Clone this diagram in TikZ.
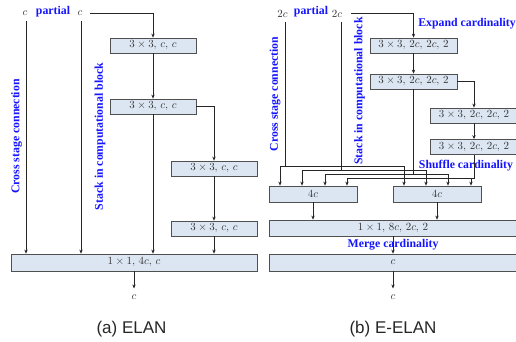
\documentclass[tikz,border=0pt]{standalone}
\usepackage{fontspec}
\setmainfont{Liberation Serif}
\newfontfamily\capfont{Liberation Sans}
\usetikzlibrary{arrows.meta}
\definecolor{boxfill}{HTML}{DCE6F2}
\definecolor{boxline}{HTML}{505050}
\definecolor{wire}{HTML}{262626}
\definecolor{notecol}{HTML}{1414FF}
\begin{document}
\begin{tikzpicture}[x=1pt,y=-1pt,
  blk/.style={draw=boxline, fill=boxfill, line width=0.8pt, minimum height=15pt,
    inner sep=0pt, text=black!80, font=\fontsize{11}{11}\selectfont},
  note/.style={text=notecol, inner sep=0pt, font=\fontsize{11.8}{12}\selectfont\bfseries},
  lbl/.style={inner sep=1pt, text=black!80, font=\fontsize{11}{11}\selectfont},
  ln/.style={draw=wire, line width=0.6pt},
  arr/.style={ln, -{Stealth[length=4pt,width=3.4pt]}},
  captxt/.style={anchor=base, text=black!85, font=\capfont\fontsize{17}{17}\selectfont}]
\clip (0,0) rectangle (516,341);
\useasboundingbox (0,0) rectangle (516,341);

% ---------------- (a) ELAN ----------------
\node[lbl] (lc1) at (25,13.5) {$c$};
\node[note] (lpart) at (53,12) {partial};
\node[lbl] (lc2) at (80,13.5) {$c$};

\node[blk, minimum width=86pt] (la1) at (153,45.5) {$3\times 3,\,c,\,c$};
\node[blk, minimum width=86pt] (la2) at (153,106.5) {$3\times 3,\,c,\,c$};
\node[blk, minimum width=86pt] (la3) at (214,168.5) {$3\times 3,\,c,\,c$};
\node[blk, minimum width=86pt] (la4) at (214,228.5) {$3\times 3,\,c,\,c$};
\node[blk, minimum width=246pt, minimum height=17pt] (lcat) at (134,262.5) {$1\times 1,\,4c,\,c$};
\node[lbl] (lout) at (134,297) {$c$};

\node[note, rotate=90] (lcross) at (16.5,136.5) {Cross stage connection};
\node[note, rotate=90] (lstack) at (100,136.5) {Stack in computational block};

\draw[arr, shorten <=4pt] ([xshift=1pt]lc1.south) -- ([xshift=1pt]lc1.south |- lcat.north);
\draw[arr, shorten <=4pt] ([xshift=1pt]lc2.south) -- ([xshift=1pt]lc2.south |- lcat.north);
\draw[arr] ([xshift=6pt]lc2.east) -| (la1.north);
\draw[arr] (la1) -- (la2);
\draw[arr] (la2.east) -| (la3.north);
\draw[arr] (la2.south) -- (la2.south |- lcat.north);
\draw[arr] (la3) -- (la4);
\draw[arr] (la4.south) -- (la4.south |- lcat.north);
\draw[arr, shorten >=5pt] (lcat.south) -- (lout.north);

\node[captxt] (capa) at (131.5,333) {(a) ELAN};

% ---------------- (b) E-ELAN ----------------
\node[lbl] (rc1) at (282.5,13.5) {$2c$};
\node[note] (rpart) at (311,12) {partial};
\node[lbl] (rc2) at (337,13.5) {$2c$};
\node[note] (rexp) at (467,24) {Expand cardinality};

\node[blk, minimum width=87pt] (rb1) at (413.5,45.5) {$3\times 3,\,2c,\,2c,\,2$};
\node[blk, minimum width=87pt] (rb2) at (413.5,81.5) {$3\times 3,\,2c,\,2c,\,2$};
\node[blk, minimum width=88pt] (rb3) at (474,115.5) {$3\times 3,\,2c,\,2c,\,2$};
\node[blk, minimum width=88pt] (rb4) at (474,147) {$3\times 3,\,2c,\,2c,\,2$};
\node[note] (rshuf) at (466,166) {Shuffle cardinality};

\node[blk, minimum width=88pt, minimum height=16pt] (rg1) at (313,194) {$4c$};
\node[blk, minimum width=88pt, minimum height=16pt] (rg2) at (437,194) {$4c$};
\node[blk, minimum width=248pt, minimum height=16pt] (rm) at (393,228) {$1\times 1,\,8c,\,2c,\,2$};
\node[note] (rmerge) at (393,245) {Merge cardinality};
\node[blk, minimum width=248pt, minimum height=17pt] (rcat) at (393,262.5) {$c$};
\node[lbl] (rout) at (393,297) {$c$};

\node[note, rotate=90] (rcross) at (275,94) {Cross stage connection};
\node[note, rotate=90] (rstack) at (359.5,91) {Stack in computational block};

% main computational stack
\draw[arr] ([xshift=8pt]rc2.east) -| (rb1.north);
\draw[arr] (rb1) -- (rb2);
\draw[arr] (rb2.east) -| (rb3.north);
\draw[arr] (rb3) -- (rb4);

% shuffle wiring: four buses feeding both 4c groups
\coordinate (h1l) at (280,166);   \coordinate (h1r) at (404,166);
\coordinate (h2l) at (302,170);   \coordinate (h2r) at (426,170);
\coordinate (h3l) at (325,174);   \coordinate (h3r) at (448,174);
\coordinate (h4l) at (347,178);   \coordinate (h4r) at (471,178);

\draw[ln, shorten <=4pt] ([xshift=3pt]rc1.south) -- ([xshift=3pt]rc1.south |- h1l);
\draw[ln] (h1l) -- (h1r);
\draw[ln, shorten <=4pt] ([xshift=4pt]rc2.south) -- ([xshift=4pt]rc2.south |- h2l);
\draw[ln] (h2l) -- (h2r);
\draw[ln] (rb2.south) -- (rb2.south |- h3l);
\draw[ln] (h3l) -- (h3r);
\draw[ln] (rb4.south) |- (h4l);

\foreach \p in {h1l,h2l,h3l,h4l} \draw[arr] (\p) -- (\p |- rg1.north);
\foreach \p in {h1r,h2r,h3r,h4r} \draw[arr] (\p) -- (\p |- rg2.north);

% merge and output
\draw[arr] (rg1.south) -- (rg1.south |- rm.north);
\draw[arr] (rg2.south) -- (rg2.south |- rm.north);
\draw[arr] (rm.south) -- (rcat.north);
\draw[arr, shorten >=5pt] (rcat.south) -- (rout.north);

\node[captxt] (capb) at (393,333) {(b) E-ELAN};
\end{tikzpicture}
\end{document}
